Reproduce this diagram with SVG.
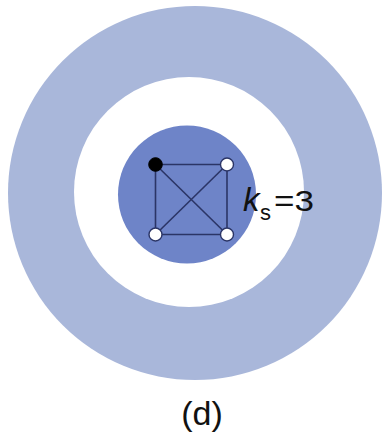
<svg xmlns="http://www.w3.org/2000/svg" width="384" height="434" viewBox="0 0 384 434">
<style>
.edge{stroke:#2b3566;stroke-width:1.6;fill:none}
.node{stroke:#2b3566;stroke-width:1.4;fill:#ffffff}
.lbl{font-family:"Liberation Sans",Arial,sans-serif;fill:#111111}
</style>
<rect width="384" height="434" fill="#ffffff"/>
<g id="shells">
<circle cx="195" cy="193" r="187" fill="#a9b7da"/>
<circle cx="189" cy="192" r="115" fill="#ffffff"/>
<circle cx="187" cy="194.5" r="69" fill="#6e84c8"/>
</g>
<g id="connectors">
<line class="edge" x1="155.5" y1="164.5" x2="227" y2="164.5"/>
<line class="edge" x1="155.5" y1="164.5" x2="155.5" y2="234.5"/>
<line class="edge" x1="155.5" y1="164.5" x2="227" y2="234.5"/>
<line class="edge" x1="227" y1="164.5" x2="227" y2="234.5"/>
<line class="edge" x1="227" y1="164.5" x2="155.5" y2="234.5"/>
<line class="edge" x1="155.5" y1="234.5" x2="227" y2="234.5"/>
</g>
<g id="n1"><circle cx="155.5" cy="164.5" r="6.8" fill="#000000" stroke="#000000" stroke-width="1"/></g>
<g id="n2"><circle class="node" cx="227" cy="164.5" r="6.5"/></g>
<g id="n3"><circle class="node" cx="155.5" cy="234.5" r="6.5"/></g>
<g id="n4"><circle class="node" cx="227" cy="234.5" r="6.5"/></g>
<g id="label-ks">
<text class="lbl" x="243" y="211" font-size="33" font-style="italic">k</text>
<text class="lbl" x="260" y="220" font-size="22">s</text>
<text class="lbl" x="274" y="211" font-size="29" textLength="40" lengthAdjust="spacingAndGlyphs">=3</text>
</g>
<g id="caption">
<text class="lbl" x="202" y="425" font-size="34" text-anchor="middle">(d)</text>
</g>
</svg>
